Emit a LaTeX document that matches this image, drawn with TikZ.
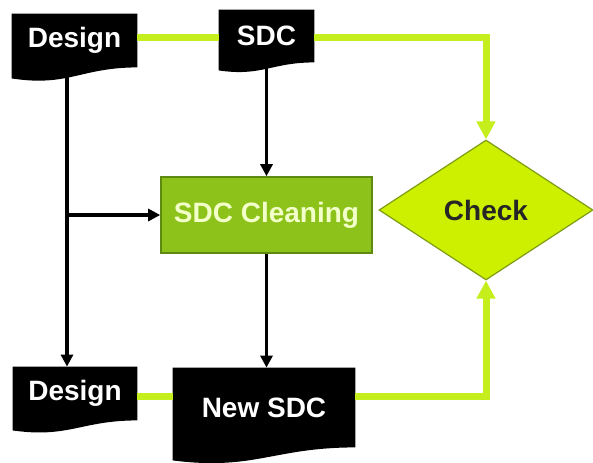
\documentclass[tikz,border=0pt]{standalone}
\usepackage{fontspec}
\setmainfont{Liberation Sans}
\usetikzlibrary{arrows.meta}
\usetikzlibrary{calc}
\usetikzlibrary{shapes.geometric}

\definecolor{lime}{HTML}{C4EE1C}
\definecolor{checkfill}{HTML}{CCF000}
\definecolor{checkline}{HTML}{7E9C14}
\definecolor{cleanfill}{HTML}{8CC21A}
\definecolor{cleanline}{HTML}{5F8A12}
\definecolor{cleantext}{HTML}{F2FFC8}

\tikzset{
    doc/.style={rectangle, inner sep=0pt, text=white, font=\bfseries\fontsize{14}{16}\selectfont},
    flow/.style={-{Triangle[length=6pt,width=6pt]}, line width=1.7pt, black},
    lime line/.style={line width=3.5pt, lime},
    lime arrow/.style={lime line, -{Triangle[length=9pt,width=9pt]}}
}

% black document shape with a wavy bottom edge
\newcommand{\docbody}[2]{%
    \fill[black] (#1.north west) -- (#1.north east) -- (#1.south east)
        .. controls ($(#1.south east)!0.45!(#1.south west)$) and ($(#1.south east)!0.55!(#1.south west)+(0,1.8*#2)$) .. ($(#1.south west)+(0,#2)$) -- cycle;}

\begin{document}
\begin{tikzpicture}[x=0.5pt,y=-0.5pt]
            \useasboundingbox (0,0) rectangle (593,462);
            \node[doc, minimum width=62.5pt, minimum height=26.5pt] (design1) at (74.5,40.5) {};
            \node[doc, minimum width=47.5pt, minimum height=26pt] (sdc1) at (266.5,36) {};
            \node[doc, minimum width=62pt, minimum height=26.5pt] (design2) at (75,393.5) {};
            \node[doc, minimum width=91pt, minimum height=39.5pt] (newsdc) at (264,407.5) {};
            \docbody{design1}{11}
            \docbody{sdc1}{8}
            \docbody{design2}{10}
            \docbody{newsdc}{13}
            \node[doc] at (design1) {Design};
            \node[doc] at (sdc1) {SDC};
            \node[doc] at (design2) {Design};
            \node[doc] at (newsdc) {New SDC};
            \node[rectangle, draw=cleanline, line width=0.8pt, fill=cleanfill, text=cleantext,
                  font=\bfseries\fontsize{14}{16}\selectfont, minimum width=105.5pt, minimum height=38pt] (cleaning) at (266.5,215) {SDC Cleaning};
            \node[diamond, draw=checkline, line width=0.6pt, fill=checkfill, text=black!85,
                  font=\bfseries\fontsize{14}{16}\selectfont, inner sep=0pt, minimum width=107pt, minimum height=70pt] (check) at (486,210) {Check};
            \coordinate (split) at (67,215);
            \draw[lime line] (design1.east |- 0,37) to (sdc1.west |- 0,37);
            \draw[lime arrow] (sdc1.east |- 0,37) -| (check.north);
            \draw[lime line] (design2.east |- 0,396) to (newsdc.west |- 0,396);
            \draw[lime arrow] (newsdc.east |- 0,396) -| (check.south);
            \draw[flow] (split |- design1.south) to (split |- design2.north);
            \draw[flow] (split) to (cleaning.west);
            \draw[flow] (sdc1.south) to (cleaning.north);
            \draw[flow] (cleaning.south) to (cleaning.south |- newsdc.north);
        \end{tikzpicture}
\end{document}
